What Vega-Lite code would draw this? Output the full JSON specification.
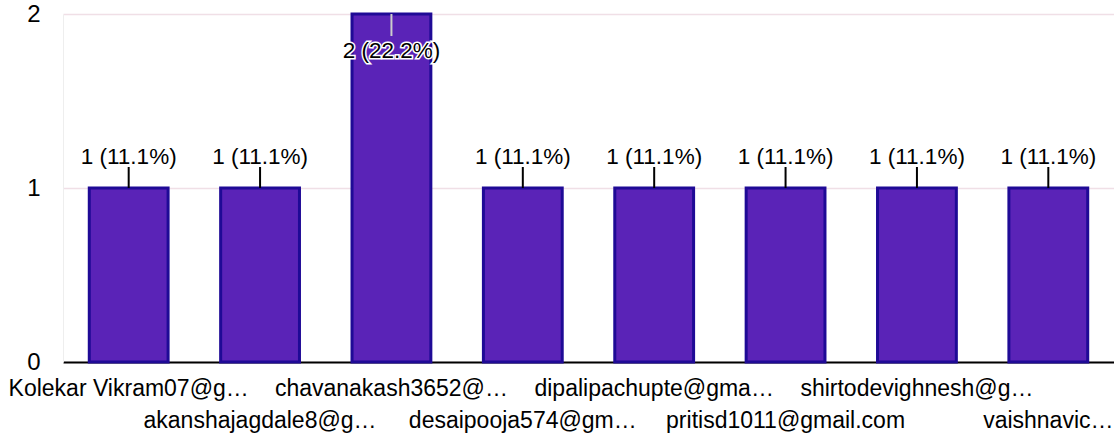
{
  "$schema": "https://vega.github.io/schema/vega-lite/v6.json",
  "width": 1051,
  "height": 348,
  "autosize": {"type": "none"},
  "padding": {"left": 63, "top": 14, "right": 0, "bottom": 77},
  "background": "white",
  "config": {"font": "Liberation Sans", "view": {"stroke": null}},
  "data": {
    "values": [
      {"name": "Kolekar Vikram07@g…", "count": 1, "label": "1 (11.1%)"},
      {"name": "akanshajagdale8@g…", "count": 1, "label": "1 (11.1%)"},
      {"name": "chavanakash3652@…", "count": 2, "label": "2 (22.2%)"},
      {"name": "desaipooja574@gm…", "count": 1, "label": "1 (11.1%)"},
      {"name": "dipalipachupte@gma…", "count": 1, "label": "1 (11.1%)"},
      {"name": "pritisd1011@gmail.com", "count": 1, "label": "1 (11.1%)"},
      {"name": "shirtodevighnesh@g…", "count": 1, "label": "1 (11.1%)"},
      {"name": "vaishnavic…", "count": 1, "label": "1 (11.1%)"}
    ]
  },
  "encoding": {
    "x": {
      "field": "name",
      "type": "nominal",
      "sort": null,
      "scale": {"paddingInner": 0.4, "paddingOuter": 0.2},
      "axis": {
        "title": null,
        "labelAngle": 0,
        "labelFontSize": 23,
        "labelColor": "#000000",
        "labelLimit": 400,
        "labelOverlap": false,
        "labelBaseline": "top",
        "labelPadding": 15,
        "labelLineHeight": 32,
        "labelExpr": "round(datum.index * 7) % 2 == 1 ? ['', datum.label] : datum.label",
        "ticks": false,
        "domainColor": "#000000",
        "domainWidth": 2
      }
    },
    "y": {
      "field": "count",
      "type": "quantitative",
      "scale": {"domain": [0, 2], "nice": false},
      "axis": {
        "title": null,
        "tickCount": 2,
        "labelFontSize": 24,
        "labelColor": "#000000",
        "labelPadding": 23,
        "labelOverlap": false,
        "labelFlush": false,
        "ticks": false,
        "domain": true,
        "domainColor": "#eeeeee",
        "gridColor": "#f0dfe6",
        "gridWidth": 1.5
      }
    }
  },
  "layer": [
    {
      "mark": {"type": "bar", "fill": "#5a23b7", "stroke": "#1f0a96", "strokeWidth": 3}
    },
    {
      "transform": [{"filter": "datum.count < 2"}],
      "mark": {"type": "rule", "color": "#000000", "strokeWidth": 2, "y2Offset": -21},
      "encoding": {"y2": {"field": "count"}}
    },
    {
      "transform": [{"filter": "datum.count < 2"}],
      "mark": {"type": "text", "fontSize": 22.5, "dy": -24, "baseline": "alphabetic", "color": "#000000"},
      "encoding": {"text": {"field": "label"}}
    },
    {
      "transform": [{"filter": "datum.count >= 2"}],
      "mark": {"type": "rule", "color": "#cccccc", "strokeWidth": 2, "y2Offset": 22},
      "encoding": {"y2": {"field": "count"}}
    },
    {
      "transform": [{"filter": "datum.count >= 2"}],
      "mark": {"type": "text", "fontSize": 22.5, "dy": 44, "baseline": "alphabetic", "color": "#ffffff", "stroke": "#ffffff", "strokeWidth": 3},
      "encoding": {"text": {"field": "label"}}
    },
    {
      "transform": [{"filter": "datum.count >= 2"}],
      "mark": {"type": "text", "fontSize": 22.5, "dy": 44, "baseline": "alphabetic", "color": "#000000"},
      "encoding": {"text": {"field": "label"}}
    }
  ]
}
